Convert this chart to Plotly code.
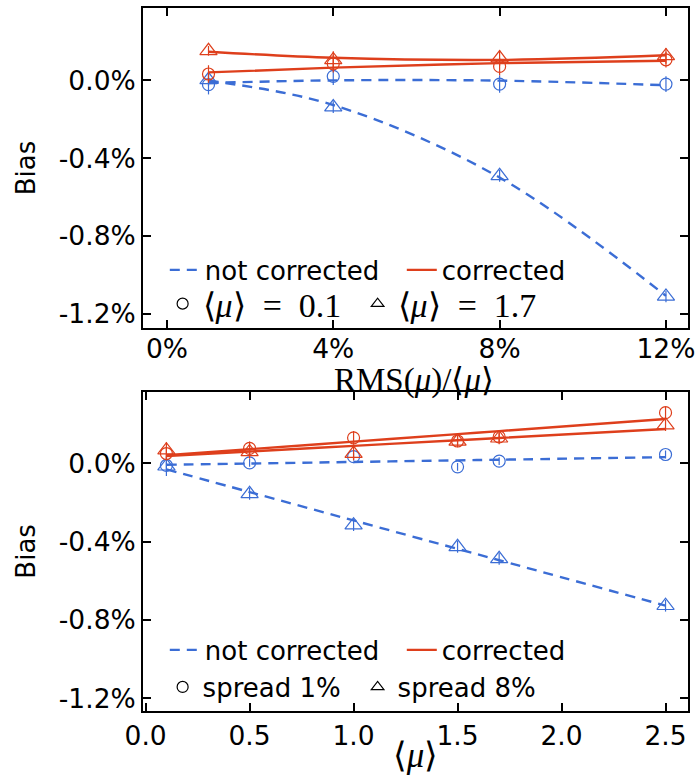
import numpy as np
import plotly.graph_objects as go

# ---------------- data ----------------
# Top panel: bias (%) vs RMS(mu)/<mu> (%)
rms_pct = [1, 4, 8, 12]
top_nc_mu01 = [-0.022, 0.021, -0.019, -0.019]     # not corrected, <mu>=0.1 (circles)
top_nc_mu17 = [0.003, -0.137, -0.490, -1.110]     # not corrected, <mu>=1.7 (triangles)
top_c_mu01 = [0.033, 0.085, 0.072, 0.106]         # corrected, <mu>=0.1
top_c_mu17 = [0.152, 0.105, 0.115, 0.126]         # corrected, <mu>=1.7
top_err_nc_mu01 = [0.050, 0.045, 0.045, 0.040]
top_err_nc_mu17 = [0.030, 0.030, 0.030, 0.030]
top_err_c_mu01 = [0.045, 0.045, 0.045, 0.040]
top_err_c_mu17 = [0.025, 0.045, 0.040, 0.040]

# Bottom panel: bias (%) vs <mu>
mu_mean = [0.1, 0.5, 1.0, 1.5, 1.7, 2.5]
bot_nc_s1 = [-0.010, 0.003, 0.035, -0.017, 0.012, 0.046]     # not corrected, spread 1%
bot_nc_s8 = [-0.014, -0.155, -0.315, -0.426, -0.487, -0.727]  # not corrected, spread 8%
bot_c_s1 = [0.051, 0.077, 0.131, 0.115, 0.136, 0.260]         # corrected, spread 1%
bot_c_s8 = [0.068, 0.059, 0.051, 0.113, 0.129, 0.196]         # corrected, spread 8%
bot_err_nc_s1 = [0.020, 0.020, 0.020, 0.020, 0.020, 0.020]
bot_err_nc_s8 = [0.050, 0.030, 0.030, 0.030, 0.030, 0.030]
bot_err_c_s1 = [0.035, 0.035, 0.035, 0.030, 0.030, 0.030]
bot_err_c_s8 = [0.040, 0.035, 0.035, 0.030, 0.030, 0.030]

top_xticks = [0, 4, 8, 12]
top_xticklabels = ["0%", "4%", "8%", "12%"]
bot_xticks = [0.0, 0.5, 1.0, 1.5, 2.0, 2.5]
bot_xticklabels = ["0.0", "0.5", "1.0", "1.5", "2.0", "2.5"]
y_ticks = [0.0, -0.4, -0.8, -1.2]
y_ticklabels = ["0.0%", "-0.4%", "-0.8%", "-1.2%"]
top_xtitle = "RMS(<i>μ</i>)/⟨<i>μ</i>⟩"
bot_xtitle = "⟨<i>μ</i>⟩"

BLUE = "#3b6dd5"
RED = "#de3f1c"
DASH = "10px,7px"
SANS = "DejaVu Sans"
SERIF = "Liberation Serif"
EN = "\u2002"

fig = go.Figure()


def add_series(x, y, err, color, symbol, dash, xa, ya, deg):
    fit = np.polyval(np.polyfit(x, y, deg), x)
    fig.add_trace(go.Scatter(
        x=x, y=fit, mode="lines", xaxis=xa, yaxis=ya, showlegend=False,
        hoverinfo="skip",
        line=dict(color=color, width=2.4, dash=dash, shape="spline")))
    fig.add_trace(go.Scatter(
        x=x, y=y, mode="markers", xaxis=xa, yaxis=ya, showlegend=False,
        marker=dict(symbol=symbol, size=12 if "circle" in symbol else 15,
                    color=color, line=dict(color=color, width=1.2)),
        error_y=dict(type="data", array=err, color=color, thickness=1.2, width=0)))


# top panel (quadratic trend lines)
add_series(rms_pct, top_nc_mu01, top_err_nc_mu01, BLUE, "circle-open", DASH, "x", "y", 2)
add_series(rms_pct, top_nc_mu17, top_err_nc_mu17, BLUE, "triangle-up-open", DASH, "x", "y", 2)
add_series(rms_pct, top_c_mu01, top_err_c_mu01, RED, "circle-open", "solid", "x", "y", 2)
add_series(rms_pct, top_c_mu17, top_err_c_mu17, RED, "triangle-up-open", "solid", "x", "y", 2)

# bottom panel (linear trend lines)
add_series(mu_mean, bot_nc_s1, bot_err_nc_s1, BLUE, "circle-open", DASH, "x2", "y2", 1)
add_series(mu_mean, bot_nc_s8, bot_err_nc_s8, BLUE, "triangle-up-open", DASH, "x2", "y2", 1)
add_series(mu_mean, bot_c_s1, bot_err_c_s1, RED, "circle-open", "solid", "x2", "y2", 1)
add_series(mu_mean, bot_c_s8, bot_err_c_s8, RED, "triangle-up-open", "solid", "x2", "y2", 1)

# legend entries
def leg_line(name, color, dash, legend):
    fig.add_trace(go.Scatter(x=[None], y=[None], mode="lines", name=name,
                             line=dict(color=color, width=2.4, dash=dash),
                             legend=legend, xaxis="x", yaxis="y"))


def leg_marker(name, symbol, legend):
    fig.add_trace(go.Scatter(x=[None], y=[None], mode="markers", name=name,
                             marker=dict(symbol=symbol, size=11, color="black",
                                         line=dict(color="black", width=1.2)),
                             legend=legend, xaxis="x", yaxis="y"))


leg_line("not corrected", BLUE, DASH, "legend")
leg_line("corrected", RED, "solid", "legend")
leg_marker("⟨<i>μ</i>⟩" + EN + "=" + EN + "0.1", "circle-open", "legend2")
leg_marker("⟨<i>μ</i>⟩" + EN + "=" + EN + "1.7", "triangle-up-open", "legend2")
leg_line("not corrected", BLUE, DASH, "legend3")
leg_line("corrected", RED, "solid", "legend3")
leg_marker("spread 1%", "circle-open", "legend4")
leg_marker("spread 8%", "triangle-up-open", "legend4")

axis_common = dict(showline=True, linecolor="black", linewidth=2, mirror="ticks",
                   ticks="inside", ticklen=8, tickwidth=1.5, tickcolor="black",
                   showgrid=False, zeroline=False, automargin=False,
                   tickfont=dict(family=SANS, size=26.5, color="black"))

legend_common = dict(orientation="h", bgcolor="rgba(0,0,0,0)", borderwidth=0,
                     xanchor="left", yanchor="middle", itemsizing="trace",
                     entrywidthmode="pixels", itemclick=False)

fig.update_layout(
    width=699, height=775,
    margin=dict(l=143, r=11, t=8, b=64, autoexpand=False),
    paper_bgcolor="white", plot_bgcolor="white",
    xaxis=dict(domain=[0, 1], anchor="y", range=[-0.575, 12.53],
               tickvals=top_xticks, ticktext=top_xticklabels,
               ticklabelstandoff=-4,
               **axis_common),
    yaxis=dict(domain=[0.5448, 1], anchor="x", range=[-1.272, 0.372],
               tickvals=y_ticks, ticktext=y_ticklabels,
               title=dict(text="Bias", standoff=16,
                          font=dict(family=SANS, size=26, color="black")),
               **axis_common),
    xaxis2=dict(domain=[0, 1], anchor="y2", range=[-0.0125, 2.608],
                tickvals=bot_xticks, ticktext=bot_xticklabels,
                title=dict(text=bot_xtitle, standoff=4,
                           font=dict(family=SERIF, size=35, color="black")),
                **axis_common),
    yaxis2=dict(domain=[0, 0.4542], anchor="x2", range=[-1.265, 0.367],
                tickvals=y_ticks, ticktext=y_ticklabels,
                title=dict(text="Bias", standoff=16,
                           font=dict(family=SANS, size=26, color="black")),
                **axis_common),
    legend=dict(x=0.04, y=0.6273, entrywidth=192,
                font=dict(family=SANS, size=26, color="black"), **legend_common),
    legend2=dict(x=0.036, y=0.5789, entrywidth=150,
                 font=dict(family=SERIF, size=34, color="black"), **legend_common),
    legend3=dict(x=0.04, y=0.0868, entrywidth=192,
                 font=dict(family=SANS, size=26, color="black"), **legend_common),
    legend4=dict(x=0.036, y=0.0341, entrywidth=150,
                 font=dict(family=SANS, size=26, color="black"), **legend_common),
    annotations=[dict(text=top_xtitle, xref="paper", yref="paper",
                      x=0.497, y=0.4695, xanchor="center", yanchor="middle",
                      showarrow=False,
                      font=dict(family=SERIF, size=33, color="black"))],
)

fig.write_html("out.html")
